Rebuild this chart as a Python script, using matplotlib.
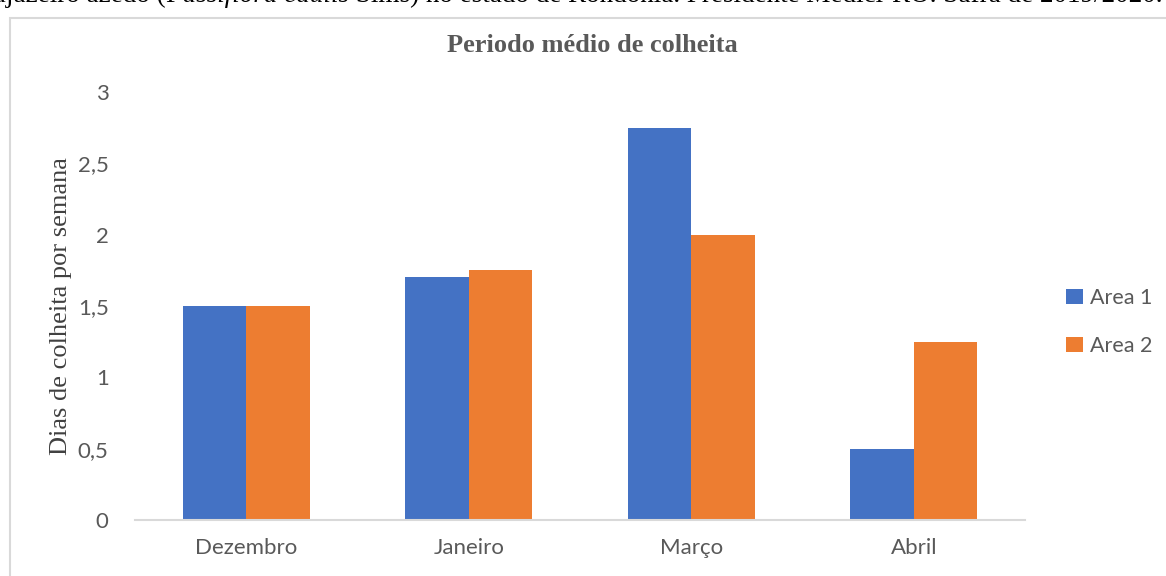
import matplotlib
matplotlib.use("Agg")
import matplotlib.pyplot as plt
from matplotlib.patches import Rectangle
import numpy as np

categories = ["Dezembro", "Janeiro", "Março", "Abril"]
area1 = [1.5, 1.7, 2.75, 0.5]
area2 = [1.5, 1.75, 2.0, 1.25]
series_names = ["Area 1", "Area 2"]
yticks = [0, 0.5, 1, 1.5, 2, 2.5, 3]
ytick_labels = ["0", "0,5", "1", "1,5", "2", "2,5", "3"]
caption_parts = [("maracujazeiro azedo (", "normal"),
                 ("Passiflora edulis", "italic"),
                 (" Sims) no estado de Rondônia. Presidente Médici-RO. Safra de 2019/2020.", "normal")]

W, H = 1166, 576
fig = plt.figure(figsize=(W / 100, H / 100), dpi=100)
renderer = fig.canvas.get_renderer()

# chart frame (light grey border)
fig.patches.append(Rectangle((10 / W, -0.1), 1.2, 1 - 18 / H + 0.1,
                             transform=fig.transFigure, fill=False,
                             edgecolor="#d9d9d9", linewidth=1.5))

# clipped caption line above the chart (document text cut by the crop)
cap_kw = dict(fontsize=19.5, family="Liberation Serif", color="black", va="baseline")
probe = fig.text(0, 0, "maraci", **cap_kw)
xpix = -probe.get_window_extent(renderer).width
probe.remove()
for txt, style in caption_parts:
    t = fig.text(xpix / W, 1 - 2 / H, txt, ha="left", style=style, **cap_kw)
    xpix += t.get_window_extent(renderer).width

ax = fig.add_axes([135 / W, 1 - 520 / H, (1025 - 135) / W, (520 - 92) / H])
x = np.arange(len(categories))
bw = 0.285
ax.bar(x - bw / 2, area1, width=bw, color="#4472c4", label=series_names[0])
ax.bar(x + bw / 2, area2, width=bw, color="#ed7d31", label=series_names[1])

ax.set_xlim(-0.5, len(categories) - 0.5)
ax.set_ylim(0, 3)
ax.set_yticks(yticks)
ax.set_yticklabels(ytick_labels)
ax.set_xticks(x)
ax.set_xticklabels(categories)
for s in ["top", "right", "left"]:
    ax.spines[s].set_visible(False)
ax.spines["bottom"].set_color("#d9d9d9")
ax.spines["bottom"].set_linewidth(1.5)
ax.tick_params(axis="both", length=0, labelsize=16, labelcolor="#595959")
ax.tick_params(axis="y", pad=19)
ax.tick_params(axis="x", pad=13)
for lbl in ax.get_xticklabels() + ax.get_yticklabels():
    lbl.set_family("Lato")

ax.set_ylabel("Dias de colheita por semana", family="Liberation Serif",
              fontsize=19, color="#404040")
ax.yaxis.set_label_coords(-0.071, 0.5)

fig.text(592 / W, 1 - 45 / H, "Periodo médio de colheita", ha="center", va="center",
         family="Liberation Serif", fontweight="bold", fontsize=19, color="#595959")

leg = fig.legend(loc="center left", bbox_to_anchor=(1047 / W, 1 - 322 / H),
                 frameon=False, handlelength=0.75, handleheight=0.75,
                 handletextpad=0.35, labelspacing=1.3,
                 prop={"family": "Lato", "size": 15.5})
for t in leg.get_texts():
    t.set_color("#595959")

fig.savefig("out.png", dpi=100)
